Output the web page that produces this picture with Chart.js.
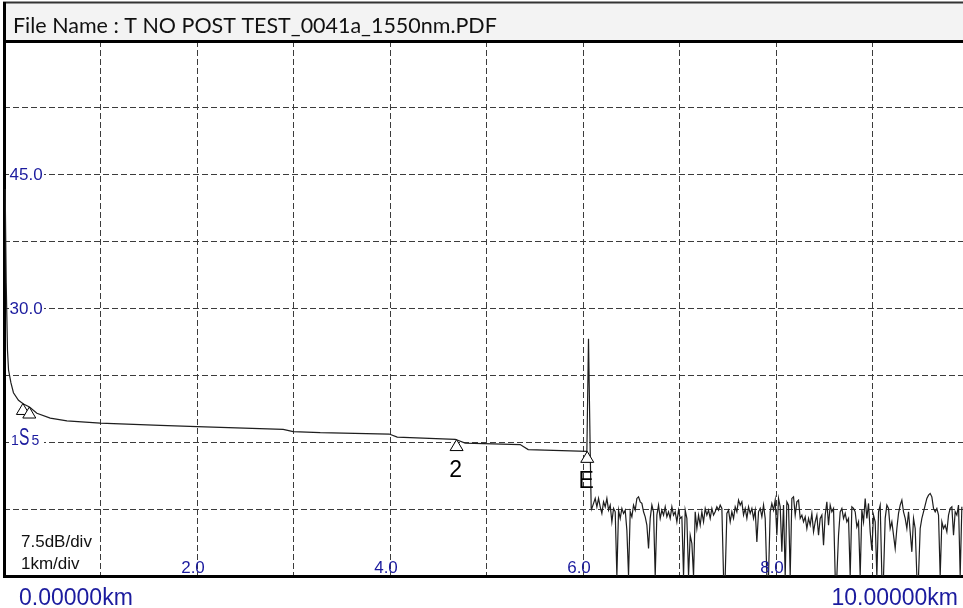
<!DOCTYPE html>
<html>
<head>
<meta charset="utf-8">
<script src="https://cdn.jsdelivr.net/npm/chart.js@4.4.1/dist/chart.umd.min.js"></script>
<style>
  html, body { margin: 0; padding: 0; background: #fff; overflow: hidden; }
  #wrap { width: 970px; height: 608px; }
</style>
</head>
<body>
<div id="wrap"><canvas id="otdr" width="970" height="608"></canvas></div>
<script>
// fibre trace: distance (km) and level (dB)
const traceKm = [0.012, 0.023, 0.036, 0.047, 0.072, 0.098, 0.150, 0.202, 0.264, 0.341, 0.479, 0.652,
  0.997, 1.619, 2.002, 2.893, 2.997, 3.277, 3.992, 4.075, 4.676, 4.779, 5.349, 5.432, 6.040, 6.057, 6.075, 6.085];
const traceDb = [43.4, 32.9, 25.35, 23.1, 21.65, 20.55, 19.7, 19.3, 18.95, 18.25, 17.7, 17.4,
  17.15, 16.9, 16.75, 16.45, 16.2, 16.07, 15.92, 15.58, 15.33, 14.91, 14.74, 14.18, 13.98, 26.6, 13.8, 7.6];

// noise floor past the fibre end, one reading every noiseStepKm
const noiseStartKm = 6.092;
const noiseStepKm = 0.01727;
const noiseDb = [
  7.58, 8.14, 8.70, 7.76, 8.70, 7.76, 7.02, 8.32, 7.76, 8.70, 7.39, 7.95, 6.08, 7.58, 7.20, 0,
  7.39, 6.46, 7.58, 7.02, 7.39, 5.14, 0, 7.20, 6.64, 7.95, 7.39, 8.70, 8.88, 8.32, 8.14, 7.20,
  6.64, 5.70, 3.09, 6.46, 7.95, 7.20, 0, 6.83, 7.95, 6.46, 7.39, 6.83, 7.76, 6.64, 7.20, 6.46,
  7.76, 6.83, 7.20, 6.08, 7.39, 6.46, 6.64, 0, 7.39, 6.46, 0, 4.58, 3.65, 0, 7.20, 5.33,
  6.83, 5.70, 7.20, 6.08, 7.58, 6.83, 7.39, 6.46, 7.58, 6.83, 7.20,
  7.76, 7.39, 7.95, 7.58, 0, 0, 7.02, 7.39, 6.08, 7.20, 6.46, 7.76, 7.20, 8.51, 7.95, 8.32,
  6.83, 7.58, 6.46, 7.76, 7.02, 7.58, 6.46, 7.39, 3.83, 7.20, 7.58, 6.64, 7.95, 6.46, 0, 0,
  7.20, 8.14, 7.39, 8.51, 4.58, 8.70, 7.76, 2.71, 7.95, 0, 8.32, 7.95, 0, 8.70, 8.88, 6.83,
  8.32, 8.51, 6.46, 6.83, 6.08, 6.64, 5.33, 6.46, 5.70, 7.02, 4.95, 6.08, 6.83, 4.58, 6.46, 6.83,
  3.46, 6.83, 8.32, 5.70, 7.95, 7.20, 7.58, 0, 0, 4.58, 7.20,
  7.58, 6.46, 7.02, 6.08, 6.46, 0, 7.76, 7.58, 7.20, 5.51, 6.08, 0, 7.39, 6.08, 8.70, 6.46,
  8.14, 4.95, 2.90, 6.83, 6.08, 0, 7.20, 7.95, 0, 0, 6.46, 7.95, 7.58, 5.33, 6.08, 4.58,
  3.09, 5.33, 7.02, 7.95, 8.51, 7.20, 6.46, 5.33, 7.20, 4.95, 2.71, 6.46, 5.33, 0, 0, 5.33,
  6.46, 7.20, 7.95, 8.70, 9.07, 9.26, 8.88, 7.58, 7.20, 7.58, 6.83, 0, 6.08, 5.33, 5.70, 4.95,
  6.83, 7.58, 7.76, 4.58, 7.20, 6.83, 7.95, 0, 7.76
];

// event markers
const markerKm = [0.196, 0.262, 4.690, 6.044];
const markerDb = [19.35, 18.95, 15.3, 13.98];
const markerText = ['', '', '2', 'E'];

const xTickKm = [2, 4, 6, 8];
const xTickText = ['2.0', '4.0', '6.0', '8.0'];
const yTickDb = [15, 30, 45];
const yTickText = ['15', '30.0', '45.0'];

const fileName = 'File Name : T NO POST TEST_0041a_1550nm.PDF';
const startText = '0.00000km';
const endText = '10.00000km';
const divText = ['7.5dB/div', '1km/div'];

const BLUE = '#1b1b9e';
const SANS = '"Liberation Sans", Arial, sans-serif';

const points = traceKm.map((km, i) => ({ x: km, y: traceDb[i] }));
noiseDb.forEach((db, i) => points.push({ x: noiseStartKm + i * noiseStepKm, y: db }));

const frame = {
  id: 'frame',
  beforeDatasetsDraw(chart) {
    const { ctx, chartArea: a } = chart;
    ctx.save();
    ctx.strokeStyle = '#000';
    ctx.lineWidth = 3;
    ctx.beginPath();
    ctx.moveTo(4.5, 2);
    ctx.lineTo(4.5, a.bottom + 1.5);
    ctx.moveTo(3, a.bottom + 0.5);
    ctx.lineTo(chart.width, a.bottom + 0.5);
    ctx.stroke();
    ctx.restore();
  },
  afterDraw(chart) {
    const { ctx, chartArea: a, scales: { x, y } } = chart;
    ctx.save();

    // header band with the file name
    ctx.fillStyle = '#f3f3f3';
    ctx.fillRect(6, 3, chart.width, a.top - 3);
    ctx.strokeStyle = '#333';
    ctx.lineWidth = 2;
    ctx.beginPath();
    ctx.moveTo(3, 2.5);
    ctx.lineTo(chart.width, 2.5);
    ctx.stroke();
    ctx.strokeStyle = '#000';
    ctx.lineWidth = 3;
    ctx.beginPath();
    ctx.moveTo(3, a.top + 0.5);
    ctx.lineTo(chart.width, a.top + 0.5);
    ctx.moveTo(4.5, 2);
    ctx.lineTo(4.5, a.top);
    ctx.stroke();

    ctx.fillStyle = '#111';
    ctx.textBaseline = 'alphabetic';
    ctx.font = '20px Lato, sans-serif';
    const w = ctx.measureText(fileName).width;
    ctx.font = (20 * 484 / w).toFixed(2) + 'px Lato, sans-serif';
    ctx.fillText(fileName, 13, 33);

    // y tick labels, on a white patch over the grid line
    ctx.textBaseline = 'middle';
    yTickDb.forEach((db, i) => {
      const py = y.getPixelForValue(db);
      ctx.fillStyle = '#fff';
      ctx.fillRect(9, py - 8, 35, 16);
      ctx.fillStyle = BLUE;
      if (i === 0) {
        // the 15 label is split around the tall start-marker tag "S"
        ctx.textBaseline = 'alphabetic';
        ctx.font = '14px ' + SANS;
        ctx.fillText(yTickText[i][0], 11, py + 3);
        ctx.fillText(yTickText[i][1], 31.5, py + 3);
        ctx.save();
        ctx.translate(19, py + 3);
        ctx.scale(0.68, 1);
        ctx.font = '23px ' + SANS;
        ctx.fillText('S', 0, 0);
        ctx.restore();
        ctx.textBaseline = 'middle';
      } else {
        ctx.font = '17px ' + SANS;
        ctx.fillText(yTickText[i], 9.5, py + 1);
      }
    });

    // x tick labels along the bottom, inside the plot
    ctx.font = '17px ' + SANS;
    ctx.textAlign = 'center';
    ctx.textBaseline = 'alphabetic';
    ctx.fillStyle = BLUE;
    xTickKm.forEach((km, i) => {
      ctx.fillText(xTickText[i], x.getPixelForValue(km) - 4, a.bottom - 3.5);
    });

    // event markers: hollow triangles with the apex on the trace
    markerKm.forEach((km, i) => {
      const px = x.getPixelForValue(km);
      const py = y.getPixelForValue(markerDb[i]);
      ctx.beginPath();
      ctx.moveTo(px, py);
      ctx.lineTo(px + 6.5, py + 11);
      ctx.lineTo(px - 6.5, py + 11);
      ctx.closePath();
      ctx.fillStyle = '#fff';
      ctx.fill();
      ctx.strokeStyle = '#000';
      ctx.lineWidth = 1;
      ctx.stroke();
      if (markerText[i]) {
        ctx.fillStyle = '#000';
        ctx.font = '23px ' + SANS;
        ctx.fillText(markerText[i], px - 1, py + 37);
      }
    });

    // scale notes and the span ends
    ctx.textAlign = 'left';
    ctx.fillStyle = '#111';
    ctx.font = '17px ' + SANS;
    ctx.fillText(divText[0], 21, 547);
    ctx.fillText(divText[1], 21, 569);

    ctx.fillStyle = BLUE;
    ctx.font = '23px ' + SANS;
    ctx.fillText(startText, 19, 604.5);
    ctx.textAlign = 'right';
    ctx.fillText(endText, 958, 604.5);
    ctx.restore();
  }
};

const gridStyle = { color: '#3c3c3c', lineWidth: 1, drawTicks: false };

new Chart(document.getElementById('otdr'), {
  type: 'line',
  data: {
    datasets: [{
      data: points,
      borderColor: '#1e1e1e',
      borderWidth: 1.2,
      pointRadius: 0,
      tension: 0,
      fill: false
    }]
  },
  options: {
    responsive: false,
    animation: false,
    devicePixelRatio: 1,
    events: [],
    layout: { padding: { left: 4, top: 41, right: 1, bottom: 32 } },
    plugins: { legend: { display: false }, tooltip: { enabled: false } },
    scales: {
      x: {
        type: 'linear', min: 0, max: 10,
        ticks: { stepSize: 1, display: false },
        grid: gridStyle,
        border: { display: false, dash: [6, 3] }
      },
      y: {
        min: 0, max: 60,
        ticks: { stepSize: 7.5, display: false },
        grid: gridStyle,
        border: { display: false, dash: [6, 3] }
      }
    }
  },
  plugins: [frame]
});
</script>
</body>
</html>
